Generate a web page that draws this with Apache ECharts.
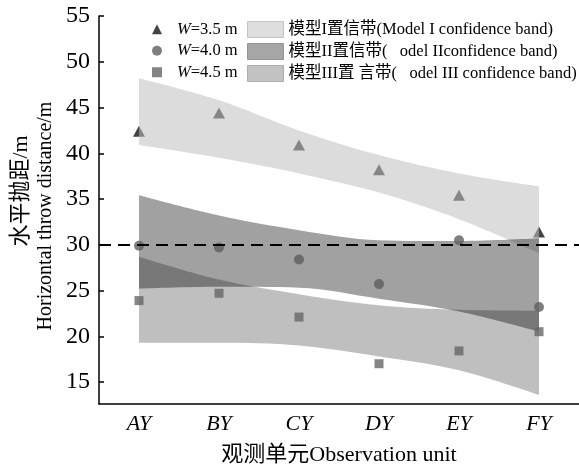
<!DOCTYPE html>
<html>
<head>
<meta charset="utf-8">
<script src="https://cdn.jsdelivr.net/npm/echarts@6/dist/echarts.min.js"></script>
<style>
  html, body { margin: 0; padding: 0; background: #fff; }
  #chart { width: 579px; height: 466px; }
</style>
</head>
<body>
<div id="chart"></div>
<script>
// Observation units along the x axis
const units = ['AY', 'BY', 'CY', 'DY', 'EY', 'FY'];

// Measured horizontal throw distance (m) for each tool width
const throwW35 = [42.4, 44.4, 40.9, 38.2, 35.4, 31.4];
const throwW40 = [29.9, 29.7, 28.4, 25.7, 30.5, 23.2];
const throwW45 = [23.9, 24.7, 22.1, 17.0, 18.4, 20.5];

// Confidence band limits of the three models
const bandIUpper   = [48.2, 45.8, 42.5, 39.8, 37.8, 36.4];
const bandILower   = [40.9, 39.5, 37.8, 35.7, 32.8, 29.1];
const bandIIUpper  = [35.4, 33.2, 31.6, 30.5, 30.4, 30.7];
const bandIILower  = [25.2, 25.4, 25.3, 24.1, 22.7, 20.5];
const bandIIIUpper = [28.7, 26.2, 24.6, 23.4, 22.9, 22.8];
const bandIIILower = [19.3, 19.3, 19.0, 17.8, 16.3, 13.6];

// Axis tick values and the reference level
const yTicks = [15, 20, 25, 30, 35, 40, 45, 50, 55];
const refLevel = 30;

const seriesNames = ['W=3.5 m', 'W=4.0 m', 'W=4.5 m'];
const bandNames = [
  '模型I置信带(Model I confidence band)',
  '模型II置信带(   odel IIconfidence band)',
  '模型III置 言带(   odel III confidence band)'
];

const SERIF = '"Liberation Serif", "Noto Sans CJK SC", serif';

function width(upper, lower) {
  return upper.map((u, i) => +(u - lower[i]).toFixed(2));
}

function band(stackId, name, lower, upper, fill) {
  return [
    {
      type: 'line', stack: stackId, data: lower, smooth: 0.35,
      symbol: 'none', silent: true, z: 2,
      lineStyle: { opacity: 0 }
    },
    {
      name: name, type: 'line', stack: stackId, data: width(upper, lower), smooth: 0.35,
      symbol: 'none', silent: true, z: 2,
      lineStyle: { opacity: 0 },
      areaStyle: { color: fill, opacity: 1 }
    }
  ];
}

const chart = echarts.init(document.getElementById('chart'), null, { renderer: 'canvas' });

chart.setOption({
  animation: false,
  backgroundColor: '#fff',
  grid: { left: 99, right: 0, top: 16, bottom: 62, containLabel: false, outerBoundsMode: 'none' },
  legend: [
    {
      orient: 'vertical', left: 152, top: 21, padding: 0,
      itemWidth: 10, itemHeight: 10, itemGap: 5,
      data: seriesNames,
      formatter: name => '{i|W}' + name.slice(1),
      textStyle: {
        fontFamily: SERIF, fontSize: 16.5, color: '#000', lineHeight: 16,
        padding: [0, 0, 0, 10],
        rich: { i: { fontFamily: SERIF, fontStyle: 'italic', fontSize: 16.5, lineHeight: 16 } }
      }
    },
    {
      orient: 'vertical', left: 247, top: 21, padding: 0,
      itemWidth: 36, itemHeight: 16, itemGap: 5,
      data: [
        { name: bandNames[0], icon: 'rect', itemStyle: { color: '#dedede', borderColor: '#c4c4c4', borderWidth: 1 } },
        { name: bandNames[1], icon: 'rect', itemStyle: { color: '#a6a6a6', borderColor: '#949494', borderWidth: 1 } },
        { name: bandNames[2], icon: 'rect', itemStyle: { color: '#c2c2c2', borderColor: '#adadad', borderWidth: 1 } }
      ],
      textStyle: { fontFamily: SERIF, fontSize: 16.5, color: '#000', lineHeight: 16 }
    }
  ],
  xAxis: {
    type: 'category',
    data: units,
    boundaryGap: true,
    axisLine: { lineStyle: { color: '#000', width: 1.5 } },
    axisTick: { inside: true, alignWithLabel: true, length: 6, lineStyle: { color: '#000', width: 1.5 } },
    axisLabel: { fontFamily: SERIF, fontStyle: 'italic', fontSize: 22, color: '#000', margin: 9 },
    name: '观测单元Observation unit',
    nameLocation: 'middle',
    nameGap: 40,
    nameTextStyle: { fontFamily: SERIF, fontSize: 22, color: '#000' }
  },
  yAxis: {
    type: 'value',
    min: 12.6,
    max: 55,
    axisLine: { show: true, lineStyle: { color: '#000', width: 1.5 } },
    axisTick: { show: true, inside: true, length: 5, customValues: yTicks, lineStyle: { color: '#000', width: 1.5 } },
    axisLabel: { customValues: yTicks, fontFamily: SERIF, fontSize: 24, color: '#000', margin: 9 },
    splitLine: { show: false }
  },
  graphic: [
    {
      type: 'text', x: 21, y: 191, rotation: Math.PI / 2,
      style: { text: '水平抛距/m', font: '22px ' + SERIF, fill: '#000',
               align: 'center', verticalAlign: 'middle', textAlign: 'center', textVerticalAlign: 'middle' }
    },
    {
      type: 'text', x: 46, y: 216, rotation: Math.PI / 2,
      style: { text: 'Horizontal throw distance/m', font: '20px ' + SERIF, fill: '#000',
               align: 'center', verticalAlign: 'middle', textAlign: 'center', textVerticalAlign: 'middle' }
    }
  ],
  series: [
    {
      name: seriesNames[0], type: 'scatter', data: throwW35, z: 1,
      symbol: 'triangle', symbolSize: [12, 11],
      itemStyle: { color: '#151515' }
    },
    ...band('I', bandNames[0], bandILower, bandIUpper, 'rgba(190,190,190,0.54)'),
    ...band('II', bandNames[1], bandIILower, bandIIUpper, 'rgba(0,0,0,0.37)'),
    ...band('III', bandNames[2], bandIIILower, bandIIIUpper, 'rgba(0,0,0,0.25)'),
    {
      name: seriesNames[1], type: 'scatter', data: throwW40, z: 3,
      symbol: 'circle', symbolSize: 10,
      itemStyle: { color: '#5e5e5e' },
      markLine: {
        silent: true, symbol: 'none', z: 4,
        label: { show: false },
        lineStyle: { color: '#000', type: [12, 7], width: 2 },
        data: [{ yAxis: refLevel }]
      }
    },
    {
      name: seriesNames[2], type: 'scatter', data: throwW45, z: 3,
      symbol: 'rect', symbolSize: 9,
      itemStyle: { color: '#666666' }
    }
  ]
});
</script>
</body>
</html>
